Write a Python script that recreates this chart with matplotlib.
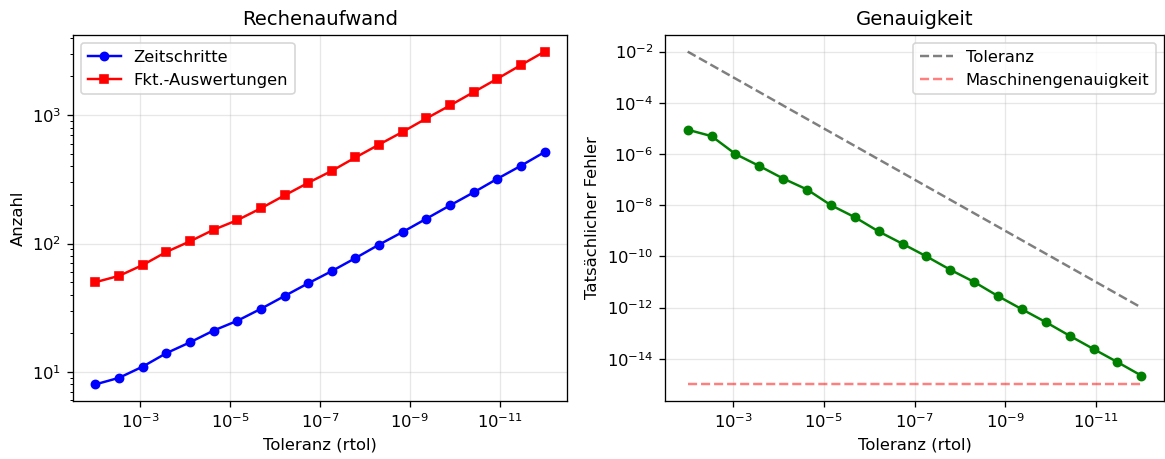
import matplotlib
matplotlib.use("Agg")
import matplotlib.pyplot as plt
import numpy as np

# Toleranzen (rtol), 20 Werte von 1e-2 bis 1e-12
rtol = np.logspace(-2, -12, 20)

zeitschritte = [8, 9, 11, 14, 17, 21, 25, 31, 39, 49, 61, 77, 98, 123, 156, 198, 250, 319, 403, 515]
fkt_auswertungen = [50, 56, 68, 86, 104, 128, 152, 188, 237, 297, 368, 468, 590, 741, 942, 1189, 1510, 1919, 2453, 3120]

fehler = [8.9e-6, 5.0e-6, 1.0e-6, 3.4e-7, 1.1e-7, 4.1e-8, 1.0e-8, 3.4e-9, 9.4e-10, 3.1e-10,
          1.0e-10, 3.0e-11, 1.0e-11, 2.8e-12, 8.6e-13, 2.7e-13, 7.9e-14, 2.4e-14, 7.4e-15, 2.2e-15]
maschinen_eps = 1e-15

dpi = 118
fig = plt.figure(figsize=(1165 / dpi, 459 / dpi), dpi=dpi)
ax1 = fig.add_axes([73 / 1165, 58 / 459, 494 / 1165, 366 / 459])
ax2 = fig.add_axes([665 / 1165, 58 / 459, 499 / 1165, 366 / 459])

ax1.loglog(rtol, zeitschritte, "b-o", label="Zeitschritte", markersize=5, linewidth=1.5)
ax1.loglog(rtol, fkt_auswertungen, "r-s", label="Fkt.-Auswertungen", markersize=5, linewidth=1.5)
ax1.set_xlabel("Toleranz (rtol)")
ax1.set_ylabel("Anzahl")
ax1.set_title("Rechenaufwand")
ax1.invert_xaxis()
ax1.grid(True, alpha=0.3)
ax1.legend(loc="upper left")

ax2.loglog(rtol, fehler, "g-o", markersize=5, linewidth=1.5)
ax2.loglog(rtol, rtol, "k--", alpha=0.5, label="Toleranz")
ax2.loglog(rtol, [maschinen_eps] * len(rtol), "r--", alpha=0.5, label="Maschinengenauigkeit")
ax2.set_xlabel("Toleranz (rtol)")
ax2.set_ylabel("Tatsächlicher Fehler")
ax2.set_title("Genauigkeit")
ax2.invert_xaxis()
ax2.grid(True, alpha=0.3)
ax2.legend(loc="upper right")

plt.savefig("out.png", dpi=dpi)
